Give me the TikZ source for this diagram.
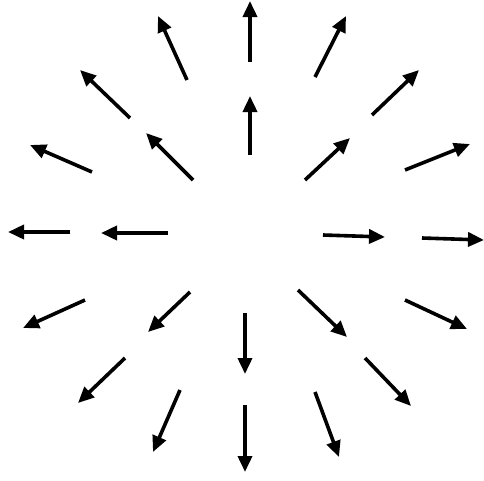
\documentclass[tikz,border=0pt]{standalone}
\usetikzlibrary{arrows.meta}
\begin{document}
\begin{tikzpicture}[x=1pt,y=-1pt,
  vec/.style={line width=3.6pt,-{Triangle[length=16pt,width=14pt]},black}]
\useasboundingbox (0,0) rectangle (484,480);
% inner ring
\coordinate (i1t) at (250,155); \coordinate (i1h) at (250,96);
\coordinate (i2t) at (305,180); \coordinate (i2h) at (350,138);
\coordinate (i3t) at (323,235); \coordinate (i3h) at (385,237);
\coordinate (i4t) at (298,290); \coordinate (i4h) at (347,337);
\coordinate (i5t) at (245,313); \coordinate (i5h) at (245,374);
\coordinate (i6t) at (190,292); \coordinate (i6h) at (148,332);
\coordinate (i7t) at (168,233); \coordinate (i7h) at (101,233);
\coordinate (i8t) at (193,180); \coordinate (i8h) at (146,133);
% outer ring
\coordinate (o1t) at (250,62);  \coordinate (o1h) at (250,1);
\coordinate (o2t) at (315,77);  \coordinate (o2h) at (346,16);
\coordinate (o3t) at (372,115); \coordinate (o3h) at (419,70);
\coordinate (o4t) at (405,170); \coordinate (o4h) at (470,144);
\coordinate (o5t) at (422,238); \coordinate (o5h) at (484,240);
\coordinate (o6t) at (405,300); \coordinate (o6h) at (467,329);
\coordinate (o7t) at (365,358); \coordinate (o7h) at (411,406);
\coordinate (o8t) at (315,392); \coordinate (o8h) at (339,457);
\coordinate (o9t) at (245,405); \coordinate (o9h) at (245,472);
\coordinate (o10t) at (180,390); \coordinate (o10h) at (153,452);
\coordinate (o11t) at (125,358); \coordinate (o11h) at (78,403);
\coordinate (o12t) at (85,300);  \coordinate (o12h) at (23,328);
\coordinate (o13t) at (70,232);  \coordinate (o13h) at (8,232);
\coordinate (o14t) at (92,172);  \coordinate (o14h) at (30,145);
\coordinate (o15t) at (130,118); \coordinate (o15h) at (80,70);
\coordinate (o16t) at (187,80);  \coordinate (o16h) at (158,16);
\foreach \n in {i1,i2,i3,i4,i5,i6,i7,i8,o1,o2,o3,o4,o5,o6,o7,o8,o9,o10,o11,o12,o13,o14,o15,o16}
  \draw[vec] (\n t) -- (\n h);
\end{tikzpicture}
\end{document}
